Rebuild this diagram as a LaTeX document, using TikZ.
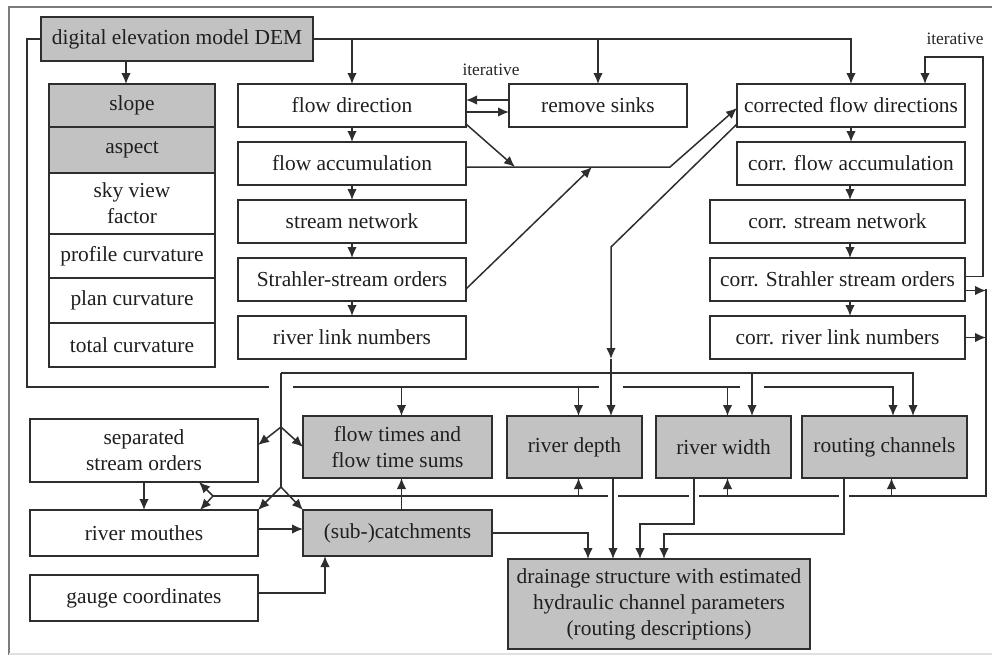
\documentclass[tikz,border=0pt]{standalone}
\usepackage{fontspec}
\setmainfont{Liberation Serif}
\usepackage{xcolor}
\usepackage{tikz}
\usetikzlibrary{arrows.meta,positioning,backgrounds}
\definecolor{boxgray}{HTML}{C2C2C2}
\definecolor{linegray}{HTML}{2E2E2E}
\definecolor{framegray}{HTML}{7C7C7C}
\tikzset{
  dbox/.style={draw=linegray, line width=1pt, fill=white, align=center, text=black!88, font=\fontsize{10.7}{13}\selectfont, inner sep=1pt, outer sep=0pt, minimum height=21.5pt},
  gbox/.style={dbox, fill=boxgray},
  darr/.style={-{Latex[length=5.5pt,width=4.8pt]}, line width=0.75pt, draw=linegray},
  dline/.style={line width=0.75pt, draw=linegray},
  hop/.style={preaction={draw=white, line width=#1, -}},
  hop/.default=12pt,
  itlabel/.style={font=\fontsize{8.7}{10}\selectfont, text=black!85, inner sep=1pt}
}

\begin{document}
\begin{tikzpicture}[x=0.5pt, y=-0.5pt]
\useasboundingbox (0,0) rectangle (992,655);

% left column
\node[gbox, minimum width=136pt, minimum height=22pt] (dem) at (177,39) {digital elevation model DEM};
\node[gbox, minimum width=83pt] (slope) at (132,105.5) {slope};
\node[gbox, minimum width=83pt, minimum height=23pt, below=0pt of slope] (aspect) {aspect};
\node[dbox, minimum width=83pt, minimum height=30.5pt, below=0pt of aspect] (sky) {sky view\\factor};
\node[dbox, minimum width=83pt, minimum height=22pt, below=0pt of sky] (prof) {profile curvature};
\node[dbox, minimum width=83pt, minimum height=22.5pt, below=0pt of prof] (plan) {plan curvature};
\node[dbox, minimum width=83pt, minimum height=22pt, below=0pt of plan] (tot) {total curvature};

% flow chain
\node[dbox, minimum width=114pt] (fd) at (352,105.5) {flow direction};
\node[dbox, minimum width=114pt, below=7.5pt of fd] (fa) {flow accumulation};
\node[dbox, minimum width=114pt, below=7.5pt of fa] (sn) {stream network};
\node[dbox, minimum width=114pt, below=7.5pt of sn] (so) {Strahler-stream orders};
\node[dbox, minimum width=114pt, below=7.5pt of so] (rl) {river link numbers};
\node[dbox, minimum width=89pt] (rs) at (598,105.5) {remove sinks};

% corrected chain
\node[dbox, minimum width=114pt] (cfd) at (851,105.5) {corrected flow directions};
\node[dbox, minimum width=114pt, below=7.5pt of cfd] (cfa) {corr. flow accumulation};
\node[dbox, minimum width=127.5pt, anchor=north east, yshift=-7.5pt] (csn) at (cfa.south east) {corr. stream network};
\node[dbox, minimum width=127.5pt, below=7.5pt of csn] (cso) {corr. Strahler stream orders};
\node[dbox, minimum width=127.5pt, below=7.5pt of cso] (crl) {corr. river link numbers};

% lower part
\node[dbox, minimum width=114pt, minimum height=31.5pt] (sso) at (144,450.5) {separated\\stream orders};
\node[dbox, minimum width=114pt, minimum height=23pt] (rm) at (144,533) {river mouthes};
\node[dbox, minimum width=114pt, minimum height=23pt] (gc) at (144,598) {gauge coordinates};
\node[gbox, minimum width=94.5pt, minimum height=31pt] (ft) at (397.5,447) {flow times and\\flow time sums};
\node[gbox, minimum width=94.5pt, minimum height=23pt] (sc) at (397.5,533) {(sub-)catchments};
\node[gbox, minimum width=67.5pt, minimum height=31pt] (rd) at (574.5,447) {river depth};
\node[gbox, minimum width=67.5pt, minimum height=31pt] (rw) at (723.5,447) {river width};
\node[gbox, minimum width=82.5pt, minimum height=31pt] (rc) at (884.5,447) {routing channels};
\node[gbox, minimum width=151pt, minimum height=45pt] (ds) at (659,604) {drainage structure with estimated\\hydraulic channel parameters\\(routing descriptions)};

\node[itlabel] (it1) at (491,70) {iterative};
\node[itlabel] (it2) at (955,39) {iterative};

\coordinate (joinA) at (515,167);
\coordinate (joinB) at (592,167);
\coordinate (kinkA) at (670,167);
\coordinate (loopR) at (983,57);
\coordinate (colR) at (986,289);
\coordinate (loopL) at (27,387);
\coordinate (busB) at (281,373);
\coordinate (forkU) at (281,427);
\coordinate (forkD) at (281,487);
\coordinate (bendC) at (611,247);
\coordinate (splitC) at (611,359);
\coordinate (retL) at (213,496);

\begin{scope}[on background layer]
\draw[framegray, line width=1.25pt] (992,7) -- (9,7) -- (9,655);
\draw[black!12, line width=0.75pt] (9,654) -- (992,654);

% from the DEM
\draw[darr] ([xshift=-3pt]slope.north |- dem.south) -- ([xshift=-3pt]slope.north);
\draw[darr] (dem.east) -| (cfd.north);
\draw[darr] (dem.east -| fd.north) -- (fd.north);
\draw[darr] (dem.east -| rs.north) -- (rs.north);
\draw[darr] ([yshift=2.75pt]rs.west) -- ([yshift=2.75pt]rs.west -| fd.east);
\draw[darr] ([yshift=-3.25pt]fd.east) -- ([yshift=-3.25pt]fd.east -| rs.west);

\draw[darr] (fd) -- (fa);
\draw[darr] (fa) -- (sn);
\draw[darr] (sn) -- (so);
\draw[darr] (so) -- (rl);
\draw[darr] (cfd) -- (cfa);
\draw[darr] ([xshift=-0.5pt]cfa.south) -- ([xshift=-0.5pt]cfa.south |- csn.north);
\draw[darr] ([xshift=-0.5pt]cfa.south |- csn.south) -- ([xshift=-0.5pt]cfa.south |- cso.north);
\draw[darr] ([xshift=-0.5pt]cfa.south |- cso.south) -- ([xshift=-0.5pt]cfa.south |- crl.north);

% into the corrected directions
\draw[darr] ([yshift=-1.75pt]fa.east) -- (kinkA) -- ([yshift=-1.25pt]cfd.west);
\draw[darr] ([yshift=1.5pt]fd.south east) -- (joinA);
\draw[darr] ([yshift=-4.75pt]so.east) -- (joinB);
\draw[darr] ([yshift=1.5pt]cso.east) -| (loopR) -| ([xshift=37pt]cfd.north);

% DEM loop round the left
\draw[darr] (dem.west) -| (loopL) -| ([xshift=4.25pt]rc.north);
\draw[darr] ([xshift=2pt]ft.north |- loopL) -- ([xshift=2pt]ft.north);
\draw[darr] ([xshift=2pt]rd.north |- loopL) -- ([xshift=2pt]rd.north);
\draw[darr] ([xshift=2pt]rw.north |- loopL) -- ([xshift=2pt]rw.north);

% corrected network down
\draw[darr] ([yshift=1.5pt]cfd.south west) -- (bendC) -- (splitC);
\draw[darr, hop] (splitC) -- (splitC |- rd.north);
\draw[dline, hop] (busB) -- (forkD);
\draw[darr, hop] ([xshift=14.25pt]rw.north |- busB) -- ([xshift=14.25pt]rw.north);
\draw[darr] (busB) -| ([xshift=14.25pt]rc.north);
\draw[darr] (forkU) -- ([yshift=2.75pt]sso.east);
\draw[darr] (forkU) -- (ft.west);
\draw[darr] (forkD) -- (rm.north east);
\draw[darr] (forkD) -- (sc.north west);

% return line from the right
\draw[darr] ([yshift=-5.5pt]cso.east) -- ([yshift=-5.5pt]cso.east -| colR);
\draw[darr] (crl.east) -- (crl.east -| colR);
\draw[dline] (colR) |- (retL);
\draw[darr] ([xshift=2pt]rd.south |- retL) -- ([xshift=2pt]rd.south);
\draw[darr] ([xshift=2pt]rw.south |- retL) -- ([xshift=2pt]rw.south);
\draw[darr] ([xshift=3.5pt]rc.south |- retL) -- ([xshift=3.5pt]rc.south);
\draw[darr] (retL) -- ([xshift=27.5pt]sso.south);
\draw[darr] (retL) -- ([xshift=28pt]rm.north);

% catchments
\draw[darr] (sso) -- (rm);
\draw[darr] ([yshift=2pt]rm.east) -- ([yshift=2pt]sc.west);
\draw[darr] ([yshift=2.5pt]gc.east) -| ([xshift=-36.25pt]sc.south);
\draw[darr] ([xshift=2pt]sc.north) -- ([xshift=2pt]ft.south);

% into the drainage structure
\draw[darr] (sc.east) -| ([xshift=-35.5pt]ds.north);
\draw[darr, hop=5pt] ([xshift=19.25pt]rd.south) -- ([xshift=19.25pt]rd.south |- ds.north);
\draw[darr, hop=5pt] ([xshift=-14.75pt]rw.south) -- ++(0,-23pt) -| ([xshift=-9.5pt]ds.north);
\draw[darr, hop=5pt] ([xshift=-20.25pt]rc.south) -- ++(0,-28pt) -| ([xshift=2.5pt]ds.north);
\end{scope}
\end{tikzpicture}
\end{document}
